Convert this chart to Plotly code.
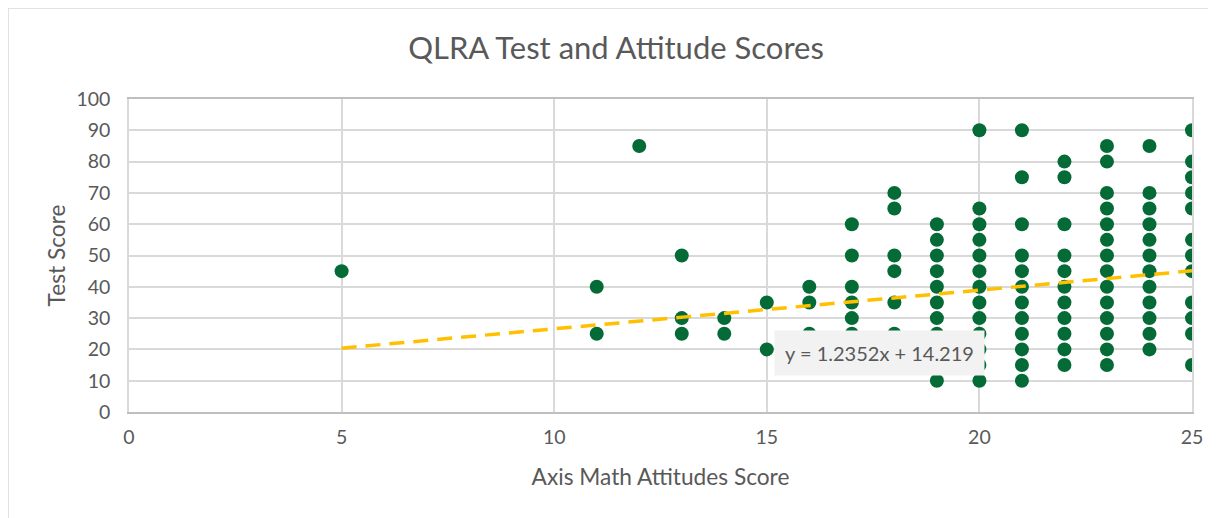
import plotly.graph_objects as go

# Attitude scores (x) and test scores (y), read per column
col_x = [5, 11, 12, 13, 14, 15, 16, 17, 18, 19, 20, 21, 22, 23, 24, 25]
col_y = [
    [45],
    [40, 25],
    [85],
    [50, 30, 25],
    [30, 25],
    [35, 20],
    [40, 35, 25, 20, 15],
    [60, 50, 40, 35, 30, 25, 15],
    [70, 65, 50, 45, 35, 25, 15],
    [60, 55, 50, 45, 40, 35, 30, 25, 20, 10],
    [90, 65, 60, 55, 50, 45, 40, 35, 30, 25, 20, 15, 10],
    [90, 75, 60, 50, 45, 40, 35, 30, 25, 20, 15, 10],
    [80, 75, 60, 50, 45, 40, 35, 30, 25, 20, 15],
    [85, 80, 70, 65, 60, 55, 50, 45, 40, 35, 30, 25, 20, 15],
    [85, 70, 65, 60, 55, 50, 45, 40, 35, 30, 25, 20],
    [90, 80, 75, 70, 65, 55, 50, 45, 35, 30, 25, 15],
]

# Trendline as labelled on the chart
slope = 1.2352
intercept = 14.219
trend_x = [5, 25]

xs, ys = [], []
for x, yl in zip(col_x, col_y):
    for y in yl:
        xs.append(x)
        ys.append(y)

FONT = "Lato, 'Open Sans', sans-serif"
GREY = "#595959"

fig = go.Figure()
fig.add_trace(go.Scatter(
    x=xs, y=ys, mode="markers",
    marker=dict(size=14, color="#056B36"),
    showlegend=False, hoverinfo="x+y",
))
fig.add_trace(go.Scatter(
    x=trend_x, y=[slope * v + intercept for v in trend_x], mode="lines",
    line=dict(color="#FFC000", width=3.5, dash="15px,9px"),
    showlegend=False,
))

fig.add_annotation(
    x=17.66, y=19.0, xref="x", yref="y",
    text=f"y = {slope}x + {intercept}", showarrow=False,
    font=dict(family=FONT, size=20, color=GREY),
    bgcolor="#F2F2F2", borderpad=10,
)

# outer chart border
fig.add_shape(type="rect", xref="paper", yref="paper",
              x0=-0.1138, x1=1.05, y0=-0.5, y1=1.2907,
              line=dict(color="#D9D9D9", width=1.5), layer="below")

fig.update_layout(
    width=1216, height=518,
    margin=dict(l=121, r=32, t=91, b=114),
    paper_bgcolor="white", plot_bgcolor="white",
    title=dict(text="QLRA Test and Attitude Scores", x=0.5, xanchor="center",
               y=0.923, yanchor="middle",
               font=dict(family=FONT, size=31, color=GREY)),
    font=dict(family=FONT, color=GREY),
    xaxis=dict(
        range=[0, 25], tickmode="linear", tick0=0, dtick=5,
        showgrid=True, gridcolor="#D9D9D9", gridwidth=1.5,
        zeroline=False, showline=True, linecolor="#BFBFBF", linewidth=1.5,
        mirror=True, ticks="", tickfont=dict(size=19.5, color=GREY),
        ticklabelstandoff=7,
        title=dict(text="Axis Math Attitudes Score", font=dict(size=22.7, color=GREY), standoff=22),
    ),
    yaxis=dict(
        range=[0, 100], tickmode="linear", tick0=0, dtick=10,
        showgrid=True, gridcolor="#D9D9D9", gridwidth=1.5,
        zeroline=False, showline=True, linecolor="#D9D9D9", linewidth=1.5,
        mirror=True, ticks="", tickfont=dict(size=19.5, color=GREY),
        ticklabelstandoff=13,
        title=dict(text="Test Score", font=dict(size=22.7, color=GREY), standoff=4),
    ),
)

fig.write_html("out.html")
